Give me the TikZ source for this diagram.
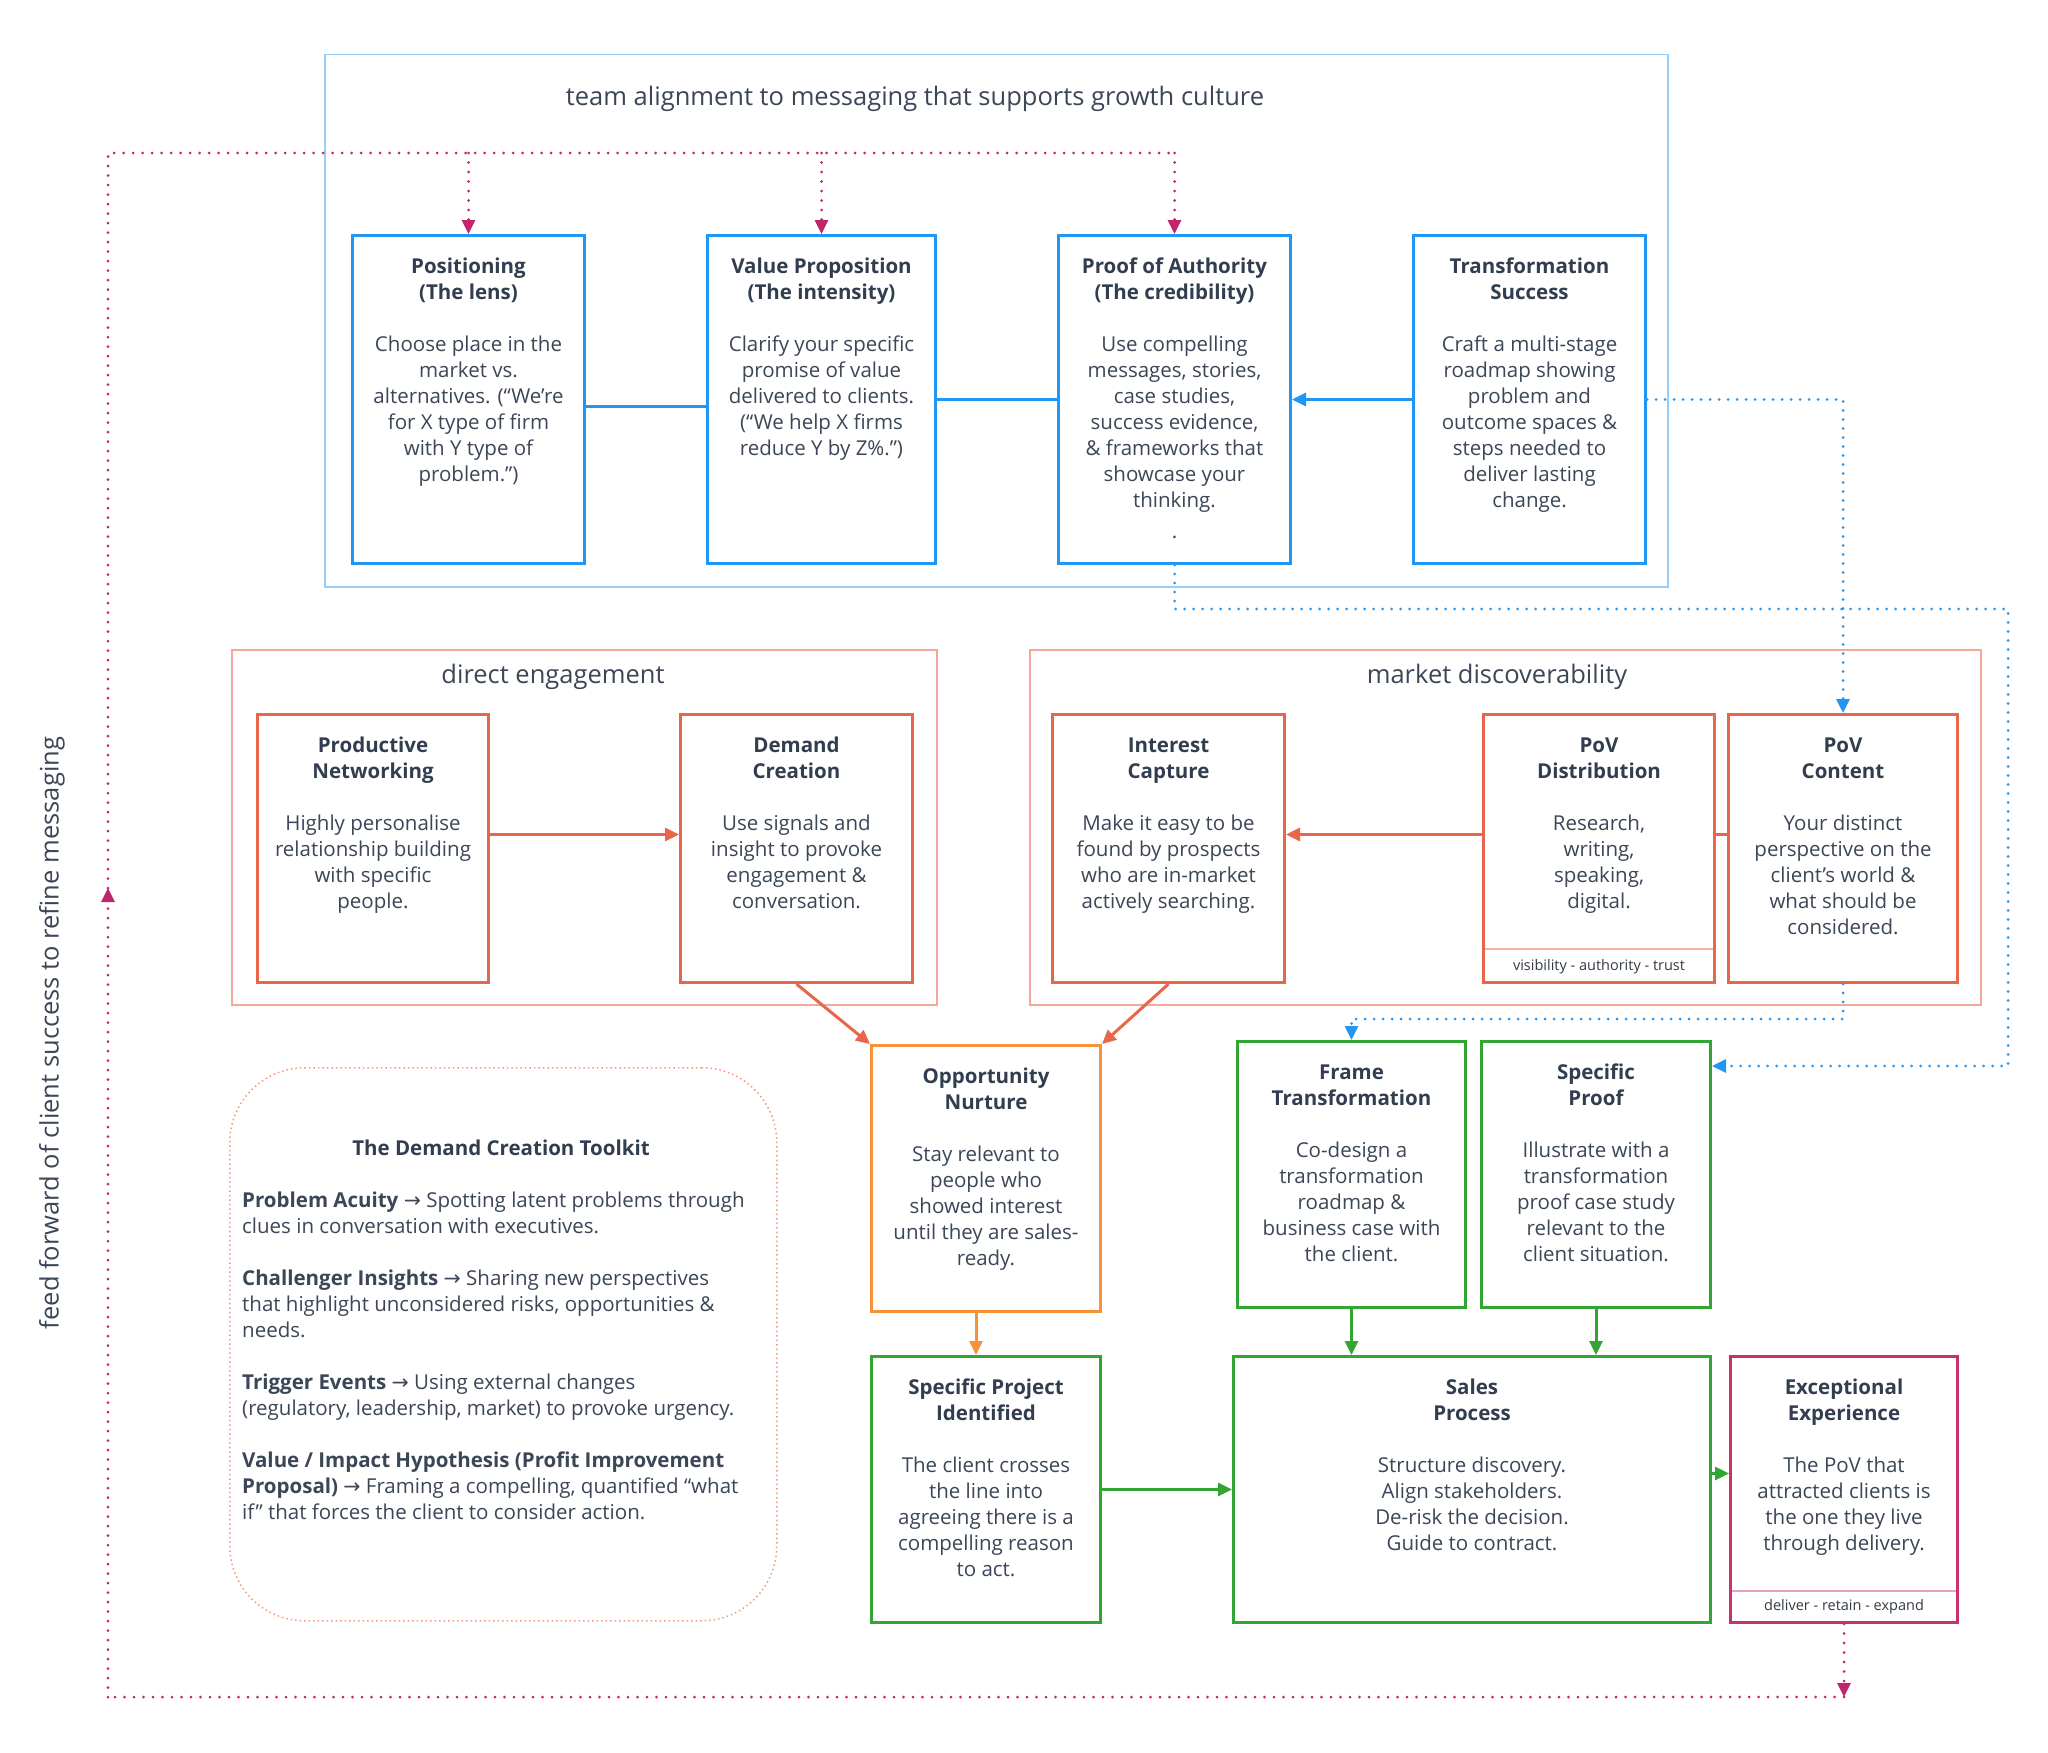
\documentclass[tikz,border=0pt]{standalone}
\usepackage{fontspec}
\setmainfont{Open Sans}
\newfontfamily\arrowfont{DejaVu Sans}
\usetikzlibrary{arrows.meta}

\definecolor{ink}{HTML}{3B4657}
\definecolor{head}{HTML}{323E50}
\definecolor{tagc}{HTML}{333B45}
\definecolor{bluebox}{HTML}{2196F3}
\definecolor{blueline}{HTML}{98CDF8}
\definecolor{redbox}{HTML}{E8674A}
\definecolor{redline}{HTML}{F6A897}
\definecolor{redsep}{HTML}{F5B3A5}
\definecolor{orangebox}{HTML}{F7923A}
\definecolor{greenbox}{HTML}{33A532}
\definecolor{magbox}{HTML}{C8306F}
\definecolor{magsep}{HTML}{E6A0BE}
\definecolor{loopc}{HTML}{C2266A}
\definecolor{bluedot}{HTML}{2196F3}
\definecolor{kitline}{HTML}{F39A80}

% box text: width, height, heading, body
\newcommand{\stagetext}[4]{%
  \parbox[t][#2pt][t]{#1pt}{\centering\fontsize{20.5}{26}\selectfont
    \rule{0pt}{38pt}{\color{head}\bfseries #3}\\[26pt]#4}}

\begin{document}
\begin{tikzpicture}[x=1pt, y=-1pt,
  stage/.style={draw=#1, line width=3pt, fill=white, inner sep=0pt, anchor=north west, text=ink},
  zone/.style={draw=#1, line width=1.5pt, inner sep=0pt, anchor=north west},
  headed/.style={-{Triangle[length=14pt,width=13pt]}},
  link/.style={draw=#1, line width=3pt},
  loopline/.style={draw=loopc, line width=3pt, line cap=round, dash pattern=on 0pt off 9.5pt},
  dotline/.style={draw=bluedot, line width=3pt, line cap=round, dash pattern=on 0pt off 9pt},
  sepline/.style={draw=#1, line width=1.5pt, shorten <=3pt, shorten >=3pt},
  title/.style={font=\fontsize{25.5}{30}\selectfont, text=ink, anchor=base},
  tagline/.style={font=\fontsize{14.5}{17}\selectfont, text=tagc},
]
\fill[white] (0,0) rectangle (2048,1753);

% groups
\node[zone=blueline, minimum width=1343pt, minimum height=532pt] (msg) at (324,54) {};
\node[zone=redline, minimum width=705pt, minimum height=355pt] (direct) at (231,649) {};
\node[zone=redline, minimum width=951pt, minimum height=355pt] (market) at (1029,649) {};
\node[title] (msgtitle) at (915,106) {team alignment to messaging that supports growth culture};
\node[title] (directtitle) at (553,683) {direct engagement};
\node[title] (markettitle) at (1497,683) {market discoverability};

% messaging row
\node[stage=bluebox] (pos) at (351,234) {\stagetext{232}{328}{Positioning\\(The lens)}{Choose place in the\\market vs.\\alternatives. (“We’re\\for X type of firm\\with Y type of\\problem.”)}};
\node[stage=bluebox] (vp) at (706,234) {\stagetext{228}{328}{Value Proposition\\(The intensity)}{Clarify your specific\\promise of value\\delivered to clients.\\(“We help X firms\\reduce Y by Z\%.”)}};
\node[stage=bluebox] (poa) at (1057,234) {\stagetext{232}{328}{Proof of Authority\\(The credibility)}{Use compelling\\messages, stories,\\case studies,\\success evidence,\\\& frameworks that\\showcase your\\thinking.\\[5pt].}};
\node[stage=bluebox] (ts) at (1412,234) {\stagetext{232}{328}{Transformation\\Success}{Craft a multi-stage\\roadmap showing\\problem and\\outcome spaces \&\\steps needed to\\deliver lasting\\change.}};

% engagement and discoverability row
\node[stage=redbox] (pn) at (256,713) {\stagetext{231}{268}{Productive\\Networking}{Highly personalise\\relationship building\\with specific\\people.}};
\node[stage=redbox] (dc) at (679,713) {\stagetext{232}{268}{Demand\\Creation}{Use signals and\\insight to provoke\\engagement \&\\conversation.}};
\node[stage=redbox] (ic) at (1051,713) {\stagetext{232}{268}{Interest\\Capture}{Make it easy to be\\found by prospects\\who are in-market\\actively searching.}};
\node[stage=redbox] (pd) at (1482,713) {\stagetext{231}{268}{PoV\\Distribution}{Research,\\writing,\\speaking,\\digital.}};
\node[stage=redbox] (pc) at (1727,713) {\stagetext{229}{268}{PoV\\Content}{Your distinct\\perspective on the\\client’s world \&\\what should be\\considered.}};
\draw[sepline=redsep] ([yshift=35pt]pd.south west) -- ([yshift=35pt]pd.south east);
\node[tagline] (pdfoot) at ([yshift=17pt]pd.south) {visibility - authority - trust};

% sales row
\node[stage=orangebox] (on) at (870,1044) {\stagetext{229}{266}{Opportunity\\Nurture}{Stay relevant to\\people who\\showed interest\\until they are sales-\\ready.}};
\node[stage=greenbox] (ft) at (1236,1040) {\stagetext{228}{266}{Frame\\Transformation}{Co-design a\\transformation\\roadmap \&\\business case with\\the client.}};
\node[stage=greenbox] (spr) at (1480,1040) {\stagetext{229}{266}{Specific\\Proof}{Illustrate with a\\transformation\\proof case study\\relevant to the\\client situation.}};
\node[stage=greenbox] (spi) at (870,1355) {\stagetext{229}{266}{Specific Project\\Identified}{The client crosses\\the line into\\agreeing there is a\\compelling reason\\to act.}};
\node[stage=greenbox] (sp) at (1232,1355) {\stagetext{477}{266}{Sales\\Process}{Structure discovery.\\Align stakeholders.\\De-risk the decision.\\Guide to contract.}};
\node[stage=magbox] (ee) at (1729,1355) {\stagetext{227}{266}{Exceptional\\Experience}{The PoV that\\attracted clients is\\the one they live\\through delivery.}};
\draw[sepline=magsep] ([yshift=33pt]ee.south west) -- ([yshift=33pt]ee.south east);
\node[tagline] (eefoot) at ([yshift=17pt]ee.south) {deliver - retain - expand};

% toolkit
\node[draw=kitline, line width=1.5pt, dash pattern=on 1.5pt off 3pt, rounded corners=75pt,
  minimum width=547pt, minimum height=553pt, inner sep=0pt, anchor=north west] (kit) at (229,1067) {};
\node[anchor=base, text=head, font=\bfseries\fontsize{20.5}{26}\selectfont] (kittitle) at (501,1155) {The Demand Creation Toolkit};
\node[anchor=north west, inner sep=0pt, align=left, text=ink, font=\fontsize{20.5}{26}\selectfont] (kitbody) at (242,1187)
  {\rule{0pt}{20pt}\textbf{Problem Acuity} {\arrowfont →} Spotting latent problems through\\
   clues in conversation with executives.\\[26pt]
   \textbf{Challenger Insights} {\arrowfont →} Sharing new perspectives\\
   that highlight unconsidered risks, opportunities \&\\
   needs.\\[26pt]
   \textbf{Trigger Events} {\arrowfont →} Using external changes\\
   (regulatory, leadership, market) to provoke urgency.\\[26pt]
   \textbf{Value / Impact Hypothesis (Profit Improvement}\\
   \textbf{Proposal)} {\arrowfont →} Framing a compelling, quantified “what\\
   if” that forces the client to consider action.};

\node[rotate=90, text=ink, font=\fontsize{25.5}{30}\selectfont] (feedlabel) at (52,1033) {feed forward of client success to refine messaging};

% solid connectors
\draw[link=bluebox] ([yshift=-7pt]pos.east) -- ([yshift=-7pt]vp.west);
\draw[link=bluebox] (vp.east) -- (poa.west);
\draw[link=bluebox, headed] (ts.west) -- (poa.east);
\draw[link=redbox, headed] ([yshift=14pt]pn.east) -- ([yshift=14pt]dc.west);
\draw[link=redbox, headed] ([yshift=14pt]pd.west) -- ([yshift=14pt]ic.east);
\draw[link=redbox] ([yshift=14pt]pc.west) -- ([yshift=14pt]pd.east);
\draw[link=redbox, headed] (dc.south) -- (on.north west);
\draw[link=redbox, headed] (ic.south) -- (on.north east);
\draw[link=orangebox, headed] ([xshift=-10pt]on.south) -- ([xshift=-10pt]spi.north);
\draw[link=greenbox, headed] (ft.south) -- (ft.south |- sp.north);
\draw[link=greenbox, headed] (spr.south) -- (spr.south |- sp.north);
\draw[link=greenbox, headed] (spi.east) -- (sp.west);
\draw[link=greenbox, headed] ([yshift=16pt]sp.east) -- ([yshift=16pt]ee.west);

% blue dotted hints
\coordinate (rightrail) at (2008,609);
\coordinate (sprin) at ([yshift=-26pt]spr.north east);
\draw[dotline, headed] (ts.east) -- (ts.east -| pc.north) -- (pc.north);
\draw[dotline, headed] (poa.south) |- (rightrail) -- (rightrail |- sprin) -- (sprin);
\draw[dotline, headed] (pc.south) -- ++(0,35) -| (ft.north);

% feedback loop
\coordinate (lowline) at (108,1697);
\coordinate (topline) at (108,153);
\coordinate (upmark) at (108,888);
\draw[loopline, headed] (ee.south) -- (ee.south |- lowline);
\draw[loopline] (ee.south |- lowline) -- (lowline);
\draw[loopline, headed] (lowline) -- (upmark);
\draw[loopline] (upmark) -- (topline) -- (topline -| poa.north);
\foreach \n in {pos, vp, poa}
  \draw[loopline, headed] (topline -| \n.north) -- (\n.north);
\end{tikzpicture}
\end{document}
